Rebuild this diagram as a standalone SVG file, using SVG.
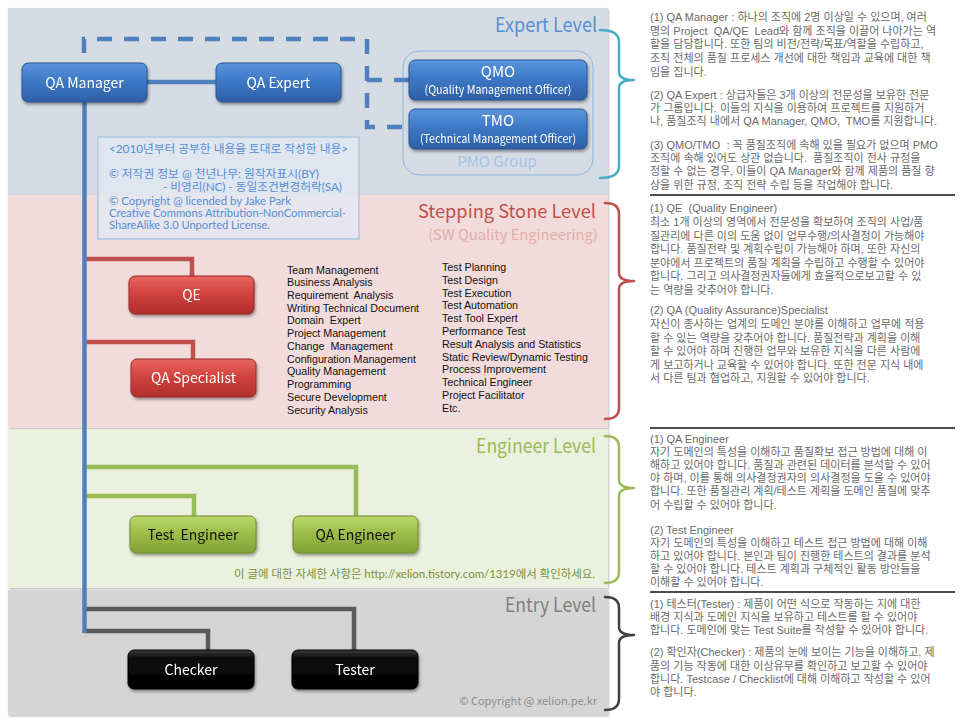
<svg xmlns="http://www.w3.org/2000/svg" width="960" height="720" viewBox="0 0 960 720">
<defs>
  <linearGradient id="gBlue" x1="0" y1="0" x2="0" y2="1">
    <stop offset="0" stop-color="#5C95DC"/><stop offset="0.45" stop-color="#3E79C7"/><stop offset="1" stop-color="#2D5FA5"/>
  </linearGradient>
  <linearGradient id="gRed" x1="0" y1="0" x2="0" y2="1">
    <stop offset="0" stop-color="#EA6763"/><stop offset="0.45" stop-color="#D1433F"/><stop offset="1" stop-color="#B02F2C"/>
  </linearGradient>
  <linearGradient id="gGreen" x1="0" y1="0" x2="0" y2="1">
    <stop offset="0" stop-color="#BAD86C"/><stop offset="0.45" stop-color="#9DBE4A"/><stop offset="1" stop-color="#80A235"/>
  </linearGradient>
  <linearGradient id="gBlack" x1="0" y1="0" x2="0" y2="1">
    <stop offset="0" stop-color="#3C3C3C"/><stop offset="0.2" stop-color="#0E0E0E"/><stop offset="1" stop-color="#000000"/>
  </linearGradient>
  <filter id="sh" x="-10%" y="-20%" width="130%" height="160%">
    <feDropShadow dx="1" dy="2" stdDeviation="1.5" flood-color="#000" flood-opacity="0.4"/>
  </filter>
  <filter id="bsh" x="-2%" y="-2%" width="104%" height="106%">
    <feDropShadow dx="1" dy="1.5" stdDeviation="1.2" flood-color="#000" flood-opacity="0.25"/>
  </filter>
  <style>
    .band{filter:url(#bsh)}
    .node{filter:url(#sh)}
    .nb{fill:url(#gBlue);stroke:#2A5590;stroke-width:1}
    .nr{fill:url(#gRed);stroke:#962826;stroke-width:1}
    .ng{fill:url(#gGreen);stroke:#6E8C2C;stroke-width:1}
    .nk{fill:url(#gBlack);stroke:#000;stroke-width:1}
    .lbl{font-family:"Noto Sans CJK KR","Noto Sans",sans-serif;font-size:14px;text-anchor:middle}
    .w{fill:#fff}
    .k{fill:#111}
    .ttl{font-size:15px}
    .sub{font-size:11.5px}
    .lvl{font-family:"Noto Sans CJK KR","Noto Sans",sans-serif;font-size:19.5px;text-anchor:end}
    .info{font-family:Lato,"Noto Sans CJK KR",sans-serif;font-size:11px;fill:#558ED5}
    .list{font-family:"Liberation Sans",Arial,sans-serif;font-size:10.7px;fill:#111}
    .note{font-family:"Liberation Sans","Noto Sans CJK KR",sans-serif;font-size:11px;fill:#6A6A6A}
    .rule{stroke:#111;stroke-width:1.5}
    .br{fill:none;stroke-width:2.5;stroke-linejoin:round;stroke-linecap:round}
    .cn{fill:none;stroke-width:4.5;stroke-linejoin:miter}
  </style>
</defs>
<rect width="960" height="720" fill="#FFFFFF"/>

<g id="bands">
  <rect class="band" x="8" y="8" width="600" height="187" fill="#D6DCE4"/>
  <rect class="band" x="8" y="195" width="600" height="233" fill="#F2DCDB"/>
  <rect class="band" x="8" y="429" width="600" height="159" fill="#EBF1DE"/>
  <rect class="band" x="8" y="590" width="600" height="125" fill="#D5D5D5"/>
</g>

<g id="pmo-group">
  <rect x="403" y="51" width="190" height="124" rx="16" fill="none" stroke="#8EB4E3" stroke-width="1"/>
  <text x="497" y="167" style="font-family:'Noto Sans CJK KR','Noto Sans',sans-serif;font-size:15px;text-anchor:middle;fill:#A7C2E6">PMO Group</text>
</g>

<g id="level-labels">
  <text class="lvl" x="597" y="32" fill="#558ED5" textLength="102" lengthAdjust="spacingAndGlyphs">Expert Level</text>
  <text class="lvl" x="596" y="218" fill="#C0504D" style="font-size:18.5px" textLength="178" lengthAdjust="spacingAndGlyphs">Stepping Stone Level</text>
  <text class="lvl" x="598" y="240" fill="#E3ABA9" style="font-size:14.5px" textLength="170" lengthAdjust="spacingAndGlyphs">(SW Quality Engineering)</text>
  <text class="lvl" x="596" y="453" fill="#9BBB59" textLength="120" lengthAdjust="spacingAndGlyphs">Engineer Level</text>
  <text class="lvl" x="596" y="612" fill="#7F7F7F" textLength="91" lengthAdjust="spacingAndGlyphs">Entry Level</text>
</g>

<g id="brackets">
  <path class="br" stroke="#4BACC6" d="M600,30 Q619,30 619,42 V72 Q619,80 634,80 Q619,80 619,88 V166 Q619,178 600,178"/>
  <path class="br" stroke="#C0504D" d="M605,203 Q619,203 619,214 V273 Q619,281 634,281 Q619,281 619,289 V408 Q619,419 605,419"/>
  <path class="br" stroke="#9BBB59" d="M605,436 Q619,436 619,447 V480 Q619,488 634,488 Q619,488 619,496 V572 Q619,583 605,583"/>
  <path class="br" stroke="#404040" d="M605,597 Q619,597 619,608 V627 Q619,635 634,635 Q619,635 619,643 V699 Q619,710 605,710"/>
</g>

<g id="info-box">
  <rect x="98" y="137" width="261" height="102" fill="#E3EAF4" fill-opacity="0.75" stroke="#B9CDE5" stroke-width="2"/>
  <text class="info" x="109" y="153" textLength="239" lengthAdjust="spacingAndGlyphs">&lt;2010년부터 공부한 내용을 토대로 작성한 내용&gt;</text>
  <text class="info" x="109" y="178" textLength="210" lengthAdjust="spacingAndGlyphs">© 저작권 정보 @ 천년나무: 원작자표시(BY)</text>
  <text class="info" x="163" y="191" textLength="179" lengthAdjust="spacingAndGlyphs">- 비영리(NC) - 동일조건변경허락(SA)</text>
  <text class="info" x="109" y="205" textLength="182" lengthAdjust="spacingAndGlyphs">© Copyright @ licended by Jake Park</text>
  <text class="info" x="109" y="217" textLength="237" lengthAdjust="spacingAndGlyphs">Creative Commons Attribution-NonCommercial-</text>
  <text class="info" x="109" y="229" textLength="161" lengthAdjust="spacingAndGlyphs">ShareAlike 3.0 Unported License.</text>
</g>

<g id="connectors">
  <path class="cn" stroke="#4F81BD" stroke-dasharray="15 12" d="M84,53 V39 H367 V127 H409"/>
  <path class="cn" stroke="#4F81BD" stroke-dasharray="15 12" d="M367,80 H409"/>
  <path class="cn" stroke="#4F81BD" stroke-width="4" d="M147,82 H216"/>
  <path class="cn" stroke="#C0504D" stroke-width="4" d="M84,259 H192 V276"/>
  <path class="cn" stroke="#C0504D" stroke-width="4" d="M84,342 H193 V359"/>
  <path class="cn" stroke="#9BBB59" stroke-width="4" d="M84,467 H356 V516"/>
  <path class="cn" stroke="#9BBB59" stroke-width="4" d="M84,496 H194 V516"/>
  <path class="cn" stroke="#595959" stroke-width="4" d="M84,609 H354 V650"/>
  <path class="cn" stroke="#595959" stroke-width="4" d="M84,631 H208 V650"/>
  <path class="cn" stroke="#4F81BD" stroke-width="5" d="M84.5,102 V633"/>
</g>

<g id="node-qa-manager" class="node">
  <rect class="nb" x="22" y="63" width="125" height="39" rx="6"/>
  <text class="lbl w" x="84.5" y="87.5">QA Manager</text>
</g>
<g id="node-qa-expert" class="node">
  <rect class="nb" x="216" y="63" width="125" height="39" rx="6"/>
  <text class="lbl w" x="278.5" y="87.5">QA Expert</text>
</g>
<g id="node-qmo" class="node">
  <rect class="nb" x="409" y="60" width="178" height="40" rx="6"/>
  <text class="lbl w ttl" x="498" y="77">QMO</text>
  <text class="lbl w sub" x="498" y="94" textLength="147" lengthAdjust="spacingAndGlyphs">(Quality Management Officer)</text>
</g>
<g id="node-tmo" class="node">
  <rect class="nb" x="409" y="109" width="178" height="40" rx="6"/>
  <text class="lbl w ttl" x="498" y="126">TMO</text>
  <text class="lbl w sub" x="498" y="143" textLength="156" lengthAdjust="spacingAndGlyphs">(Technical Management Officer)</text>
</g>
<g id="node-qe" class="node">
  <rect class="nr" x="129" y="276" width="125" height="38" rx="6"/>
  <text class="lbl w" x="191.5" y="300">QE</text>
</g>
<g id="node-qa-specialist" class="node">
  <rect class="nr" x="131" y="359" width="125" height="38" rx="6"/>
  <text class="lbl w" x="193.5" y="383">QA Specialist</text>
</g>
<g id="node-test-engineer" class="node">
  <rect class="ng" x="130" y="516" width="126" height="37" rx="6"/>
  <text class="lbl k" x="193" y="539.5" xml:space="preserve">Test  Engineer</text>
</g>
<g id="node-qa-engineer" class="node">
  <rect class="ng" x="293" y="516" width="125" height="37" rx="6"/>
  <text class="lbl k" x="355.5" y="539.5">QA Engineer</text>
</g>
<g id="node-checker" class="node">
  <rect class="nk" x="128" y="650" width="126" height="39" rx="6"/>
  <text class="lbl w" x="191" y="674.5">Checker</text>
</g>
<g id="node-tester" class="node">
  <rect class="nk" x="292" y="650" width="126" height="39" rx="6"/>
  <text class="lbl w" x="355" y="674.5">Tester</text>
</g>

<g id="skills">
  <text class="list" x="287" y="273.5">Team Management</text>
  <text class="list" x="287" y="286.2">Business Analysis</text>
  <text class="list" x="287" y="299" xml:space="preserve">Requirement  Analysis</text>
  <text class="list" x="287" y="311.7">Writing Technical Document</text>
  <text class="list" x="287" y="324.4" xml:space="preserve">Domain  Expert</text>
  <text class="list" x="287" y="337.1">Project Management</text>
  <text class="list" x="287" y="349.9" xml:space="preserve">Change  Management</text>
  <text class="list" x="287" y="362.6">Configuration Management</text>
  <text class="list" x="287" y="375.3">Quality Management</text>
  <text class="list" x="287" y="388">Programming</text>
  <text class="list" x="287" y="400.8">Secure Development</text>
  <text class="list" x="287" y="413.5">Security Analysis</text>
  <text class="list" x="442" y="271">Test Planning</text>
  <text class="list" x="442" y="283.8">Test Design</text>
  <text class="list" x="442" y="296.6">Test Execution</text>
  <text class="list" x="442" y="309.4">Test Automation</text>
  <text class="list" x="442" y="322.2">Test Tool Expert</text>
  <text class="list" x="442" y="335">Performance Test</text>
  <text class="list" x="442" y="347.8">Result Analysis and Statistics</text>
  <text class="list" x="442" y="360.6">Static Review/Dynamic Testing</text>
  <text class="list" x="442" y="373.4">Process Improvement</text>
  <text class="list" x="442" y="386.2">Technical Engineer</text>
  <text class="list" x="442" y="399">Project Facilitator</text>
  <text class="list" x="442" y="411.8">Etc.</text>
</g>

<g id="footnotes">
  <text x="595" y="578" style="font-family:Lato,'Noto Sans CJK KR',sans-serif;font-size:11px;text-anchor:end;fill:#77933C" textLength="361" lengthAdjust="spacingAndGlyphs">이 글에 대한 자세한 사항은 http://xelion.tistory.com/1319에서 확인하세요.</text>
  <text x="597" y="705" style="font-family:'Noto Sans CJK KR',sans-serif;font-size:11px;text-anchor:end;fill:#8C8C8C">© Copyright @ xelion.pe.kr</text>
</g>

<g id="notes">
  <text class="note" x="650" y="21">(1) QA Manager : 하나의 조직에 2명 이상일 수 있으며, 여러</text>
  <text class="note" x="650" y="35" xml:space="preserve">명의 Project  QA/QE  Lead와 함께 조직을 이끌어 나아가는 역</text>
  <text class="note" x="650" y="48">할을 담당합니다. 또한 팀의 비전/전략/목표/역할을 수립하고,</text>
  <text class="note" x="650" y="62">조직 전체의 품질 프로세스 개선에 대한 책임과 교육에 대한 책</text>
  <text class="note" x="650" y="76">임을 집니다.</text>
  <text class="note" x="650" y="99">(2) QA Expert : 상급자들은 3개 이상의 전문성을 보유한 전문</text>
  <text class="note" x="650" y="112">가 그룹입니다. 이들의 지식을 이용하여 프로젝트를 지원하거</text>
  <text class="note" x="650" y="125" xml:space="preserve">나, 품질조직 내에서 QA Manager, QMO,  TMO를 지원합니다.</text>
  <text class="note" x="650" y="149" xml:space="preserve">(3) QMO/TMO  : 꼭 품질조직에 속해 있을 필요가 없으며 PMO</text>
  <text class="note" x="650" y="162" xml:space="preserve">조직에 속해 있어도 상관 없습니다.  품질조직이 전사 규정을</text>
  <text class="note" x="650" y="175">정할 수 없는 경우, 이들이 QA Manager와 함께 제품의 품질 향</text>
  <text class="note" x="650" y="189">상을 위한 규정, 조직 전략 수립 등을 작업해야 합니다.</text>
  <line class="rule" x1="650" y1="195" x2="955" y2="195"/>

  <text class="note" x="650" y="212" xml:space="preserve">(1) QE  (Quality Engineer)</text>
  <text class="note" x="650" y="226">최소 1개 이상의 영역에서 전문성을 확보하여 조직의 사업/품</text>
  <text class="note" x="650" y="240">질관리에 다른 이의 도움 없이 업무수행/의사결정이 가능해야</text>
  <text class="note" x="650" y="253">합니다. 품질전략 및 계획수립이 가능해야 하며, 또한 자신의</text>
  <text class="note" x="650" y="267">분야에서 프로젝트의 품질 계획을 수립하고 수행할 수 있어야</text>
  <text class="note" x="650" y="280">합니다. 그리고 의사결정권자들에게 효율적으로보고할 수 있</text>
  <text class="note" x="650" y="294">는 역량을 갖추어야 합니다.</text>
  <text class="note" x="650" y="314">(2) QA (Quality Assurance)Specialist</text>
  <text class="note" x="650" y="328">자신이 종사하는 업계의 도메인 분야를 이해하고 업무에 적용</text>
  <text class="note" x="650" y="342">할 수 있는 역량을 갖추어야 합니다. 품질전략과 계획을 이해</text>
  <text class="note" x="650" y="355">할 수 있어야 하며 진행한 업무와 보유한 지식을 다른 사람에</text>
  <text class="note" x="650" y="369">게 보고하거나 교육할 수 있어야 합니다. 또한 전문 지식 내에</text>
  <text class="note" x="650" y="382">서 다른 팀과 협업하고, 지원할 수 있어야 합니다.</text>
  <line class="rule" x1="650" y1="428" x2="955" y2="428"/>

  <text class="note" x="650" y="443">(1) QA Engineer</text>
  <text class="note" x="650" y="456">자기 도메인의 특성을 이해하고 품질확보 접근 방법에 대해 이</text>
  <text class="note" x="650" y="469">해하고 있어야 합니다. 품질과 관련된 데이터를 분석할 수 있어</text>
  <text class="note" x="650" y="482">야 하며, 이를 통해 의사결정권자의 의사결정을 도울 수 있어야</text>
  <text class="note" x="650" y="495">합니다. 또한 품질관리 계획/테스트 계획을 도메인 품질에 맞추</text>
  <text class="note" x="650" y="509">어 수립할 수 있어야 합니다.</text>
  <text class="note" x="650" y="534">(2) Test Engineer</text>
  <text class="note" x="650" y="547">자기 도메인의 특성을 이해하고 테스트 접근 방법에 대해 이해</text>
  <text class="note" x="650" y="560">하고 있어야 합니다. 본인과 팀이 진행한 테스트의 결과를 분석</text>
  <text class="note" x="650" y="573">할 수 있어야 합니다. 테스트 계획과 구체적인 활동 방안들을</text>
  <text class="note" x="650" y="586">이해할 수 있어야 합니다.</text>
  <line class="rule" x1="650" y1="592" x2="955" y2="592"/>

  <text class="note" x="650" y="608">(1) 테스터(Tester) : 제품이 어떤 식으로 작동하는 지에 대한</text>
  <text class="note" x="650" y="621">배경 지식과 도메인 지식을 보유하고 테스트를 할 수 있어야</text>
  <text class="note" x="650" y="634">합니다. 도메인에 맞는 Test Suite를 작성할 수 있어야 합니다.</text>
  <text class="note" x="650" y="656">(2) 확인자(Checker) : 제품의 눈에 보이는 기능을 이해하고, 제</text>
  <text class="note" x="650" y="670">품의 기능 작동에 대한 이상유무를 확인하고 보고할 수 있어야</text>
  <text class="note" x="650" y="683">합니다. Testcase / Checklist에 대해 이해하고 작성할 수 있어</text>
  <text class="note" x="650" y="696">야 합니다.</text>
</g>
</svg>
